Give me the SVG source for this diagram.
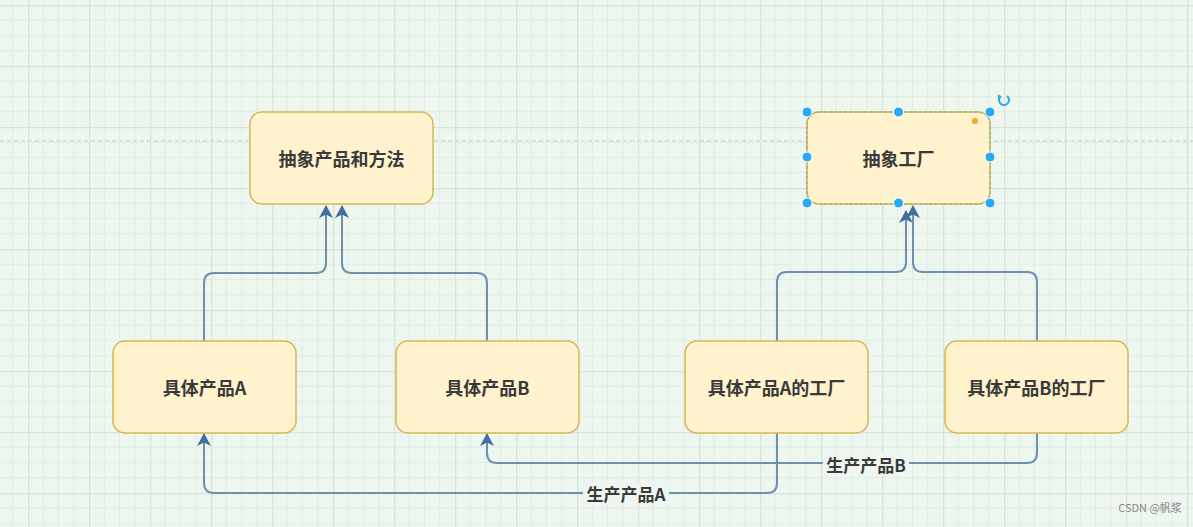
<svg xmlns="http://www.w3.org/2000/svg" width="1193" height="527" viewBox="0 0 1193 527">
<style>
.node rect.box{fill:#fff2cc;stroke:#d6b656;stroke-width:1.5}
.lbl{font-family:"Noto Sans CJK SC","Liberation Sans",sans-serif;font-size:18px;font-weight:bold;fill:#3a3a3a;text-anchor:middle;dominant-baseline:central}
.elbl{font-family:"Noto Sans CJK SC","Liberation Sans",sans-serif;font-size:17px;font-weight:bold;fill:#3a3a3a;text-anchor:middle;dominant-baseline:central}
.conn path{fill:none;stroke:#6f8fae;stroke-width:2}
.handle{fill:#29a9f0;stroke:#ffffff;stroke-width:1}
</style>
<defs>
<pattern id="grid" x="28" y="5" width="61" height="61" patternUnits="userSpaceOnUse">
<rect width="61" height="61" fill="#edf6ef"/>
<path d="M15.25 0V61M30.5 0V61M45.75 0V61M0 15.25H61M0 30.5H61M0 45.75H61" stroke="#e2ede4" stroke-width="1"/>
<path d="M0.5 0V61M0 0.5H61" stroke="#d6e4d9" stroke-width="1.5"/>
</pattern>
<marker id="arr" markerWidth="13" markerHeight="14" refX="12" refY="7" orient="auto" markerUnits="userSpaceOnUse">
<path d="M0 0L13 7L0 14L3.5 7Z" fill="#416f9d"/>
</marker>
</defs>
<rect width="1193" height="527" fill="url(#grid)"/>
<line x1="0" y1="141" x2="1193" y2="141" stroke="#c4d3c8" stroke-width="1" stroke-dasharray="4 3"/>

<g id="connectors" class="conn">
<path d="M204 341V283Q204 273 214 273H316Q326 273 326 263V206" marker-end="url(#arr)"/>
<path d="M487 341V283Q487 273 477 273H352Q342 273 342 263V206" marker-end="url(#arr)"/>
<path d="M777 341V282Q777 272 787 272H896Q906 272 906 262V211" marker-end="url(#arr)"/>
<path d="M1037 341V282Q1037 272 1027 272H923Q913 272 913 262V206" marker-end="url(#arr)"/>
<path d="M777 433V483Q777 493 767 493H214Q204 493 204 483V434" marker-end="url(#arr)"/>
<path d="M1037 433V453Q1037 463 1027 463H497Q487 463 487 453V434" marker-end="url(#arr)"/>
<rect x="583" y="482" width="86" height="22" fill="#edf6ef"/>
<text class="elbl" x="626" y="493">生产产品A</text>
<rect x="823" y="453" width="86" height="22" fill="#edf6ef"/>
<text class="elbl" x="866" y="464">生产产品B</text>
</g>

<g id="n-abstract-product" class="node">
<rect class="box" x="250" y="112" width="183" height="92" rx="12"/>
<text class="lbl" x="341.5" y="158">抽象产品和方法</text>
</g>

<g id="n-abstract-factory" class="node">
<rect class="box" x="807" y="112" width="183" height="92" rx="12"/>
<rect x="807" y="112" width="183" height="92" rx="12" fill="none" stroke="#7fa889" stroke-width="1" stroke-dasharray="3 2"/>
<text class="lbl" x="898.5" y="158">抽象工厂</text>
<circle class="handle" cx="807" cy="112" r="5"/>
<circle class="handle" cx="898.5" cy="112" r="5"/>
<circle class="handle" cx="990" cy="112" r="5"/>
<circle class="handle" cx="807" cy="157" r="5"/>
<circle class="handle" cx="990" cy="157" r="5"/>
<circle class="handle" cx="807" cy="203" r="5"/>
<circle class="handle" cx="898.5" cy="203" r="5"/>
<circle class="handle" cx="990" cy="203" r="5"/>
<circle cx="975" cy="121" r="3" fill="#f5a623"/>
<path d="M1007 96A5 5 0 1 1 1000 97" fill="none" stroke="#29a9f0" stroke-width="2"/>
<path d="M998 94L1002 97L998 100Z" fill="#29a9f0"/>
</g>

<g id="n-product-a" class="node">
<rect class="box" x="113" y="341" width="183" height="92" rx="12"/>
<text class="lbl" x="204.5" y="387">具体产品A</text>
</g>

<g id="n-product-b" class="node">
<rect class="box" x="396" y="341" width="183" height="92" rx="12"/>
<text class="lbl" x="487.5" y="387">具体产品B</text>
</g>

<g id="n-factory-a" class="node">
<rect class="box" x="685" y="341" width="183" height="92" rx="12"/>
<text class="lbl" x="776.5" y="387">具体产品A的工厂</text>
</g>

<g id="n-factory-b" class="node">
<rect class="box" x="945" y="341" width="183" height="92" rx="12"/>
<text class="lbl" x="1036.5" y="387">具体产品B的工厂</text>
</g>

<text x="1150" y="512" font-family="Noto Sans CJK SC,Liberation Sans,sans-serif" font-size="11" fill="#888" text-anchor="middle">CSDN @帆浆</text>
</svg>
